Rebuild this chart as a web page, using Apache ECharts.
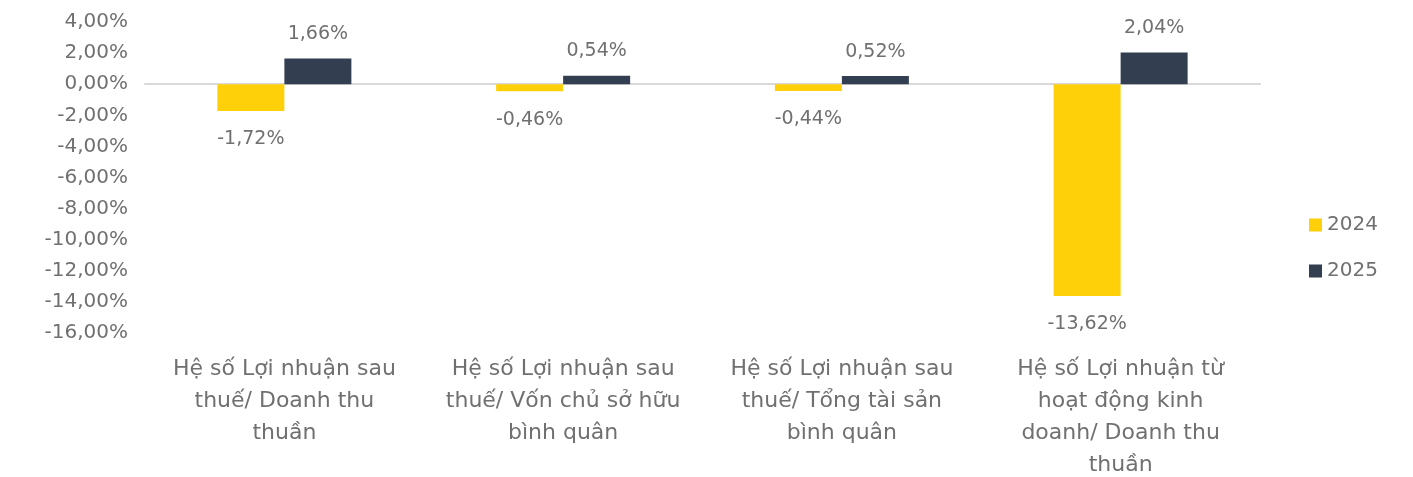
<!DOCTYPE html>
<html>
<head>
<meta charset="utf-8">
<script src="https://cdn.jsdelivr.net/npm/echarts@6/dist/echarts.min.js"></script>
<style>
  html, body { margin: 0; padding: 0; background: #fff; }
  #chart { width: 1413px; height: 477px; }
</style>
</head>
<body>
<div id="chart"></div>
<script>
const categories = [
  "Hệ số Lợi nhuận sau\nthuế/ Doanh thu\nthuần",
  "Hệ số Lợi nhuận sau\nthuế/ Vốn chủ sở hữu\nbình quân",
  "Hệ số Lợi nhuận sau\nthuế/ Tổng tài sản\nbình quân",
  "Hệ số Lợi nhuận từ\nhoạt động kinh\ndoanh/ Doanh thu\nthuần"
];
const seriesNames = ["2024", "2025"];
const values2024 = [-1.72, -0.46, -0.44, -13.62];
const values2025 = [1.66, 0.54, 0.52, 2.04];

const fontFamily = "DejaVu Sans";
const textColor = "#707070";

// comma decimals, as in the source
const pct = (v) => v.toFixed(2).replace(".", ",") + "%";

const chart = echarts.init(document.getElementById("chart"));

const option = {
  animation: false,
  textStyle: { fontFamily: fontFamily },
  grid: {
    left: 145, right: 153, top: 22, bottom: 144,
    containLabel: false,
    outerBoundsMode: "none" // keep the plot size fixed, labels may run to the edge
  },
  legend: {
    orient: "vertical",
    left: 1304,
    top: 210,
    itemWidth: 13,
    itemHeight: 13,
    itemGap: 26,
    icon: "rect",
    textStyle: { color: textColor, fontSize: 20, fontFamily: fontFamily },
    data: seriesNames
  },
  xAxis: [
    {
      type: "category",
      data: categories,
      position: "bottom",
      axisLine: { show: false, onZero: false },
      axisTick: { show: false },
      axisLabel: {
        color: textColor,
        fontSize: 22,
        lineHeight: 32,
        margin: 20,
        interval: 0,
        align: "center"
      }
    },
    {
      // zero line only
      type: "category",
      data: categories,
      axisLine: { show: true, onZero: true, lineStyle: { color: "#d9d9d9", width: 2 } },
      axisTick: { show: false },
      axisLabel: { show: false }
    }
  ],
  yAxis: {
    type: "value",
    min: -16,
    max: 4,
    interval: 2,
    axisLine: { show: false },
    axisTick: { show: false },
    splitLine: { show: false },
    axisLabel: {
      color: textColor,
      fontSize: 20,
      margin: 17,
      formatter: (v) => pct(v)
    }
  },
  series: [
    {
      name: seriesNames[0],
      type: "bar",
      data: values2024,
      barWidth: 67,
      barGap: "0%",
      itemStyle: { color: "#FDD00A" },
      label: {
        show: true,
        position: "bottom",
        distance: 19,
        color: textColor,
        fontSize: 19,
        formatter: (p) => pct(p.value)
      }
    },
    {
      name: seriesNames[1],
      type: "bar",
      data: values2025,
      barWidth: 67,
      barGap: "0%",
      itemStyle: { color: "#333F50" },
      label: {
        show: true,
        position: "top",
        distance: 15,
        color: textColor,
        fontSize: 19,
        formatter: (p) => pct(p.value)
      }
    }
  ]
};

chart.setOption(option);
</script>
</body>
</html>
